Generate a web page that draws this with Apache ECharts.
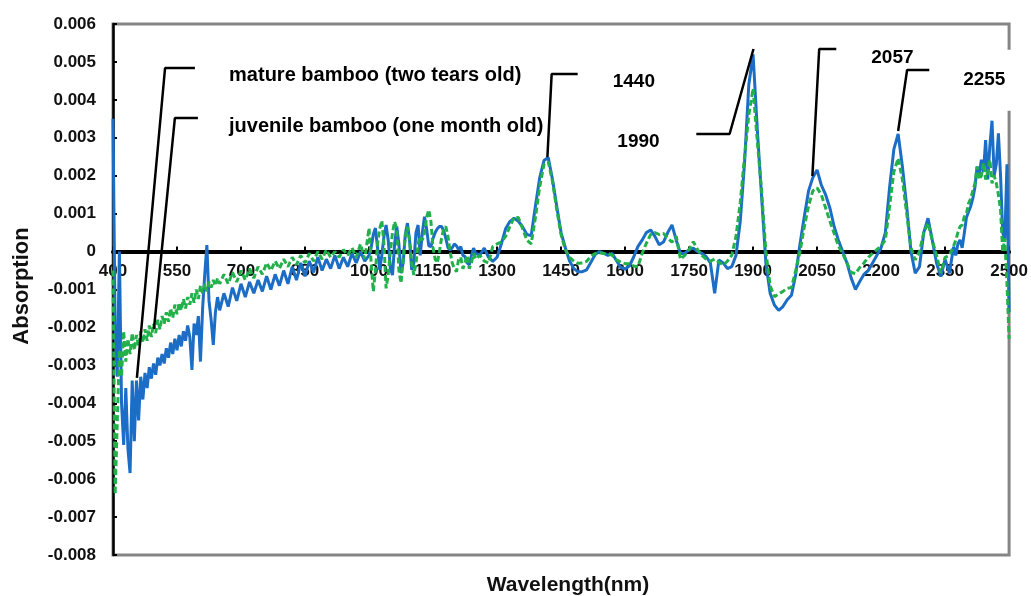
<!DOCTYPE html>
<html><head><meta charset="utf-8">
<script src="https://cdn.jsdelivr.net/npm/echarts/dist/echarts.min.js"></script>
<style>html,body{margin:0;padding:0;background:#fff}#chart{width:1031px;height:596px}</style>
</head><body><div id="chart"></div>
<script>
// ---- wavelength grids (nm) ----
const wlA = [400,405,410,415,420,425,430,435,440,445,450,455,460,465,470,475,480,485,490,495,500,505,510,515,520,525,530,535,540,545,550,555,560,565,570,575,580,585,590,595,600,605,610,615,620,625,630,635,640,645,650];
const wlB = [660,670,680,690,700,710,720,730,740,750,760,770,780,790,800,810,820,830,840,850,860,870,880,890,900,910,920,930,940,950,960,970,980,990,1000];
const wlC = [1005,1010,1015,1020,1025,1030,1035,1040,1045,1050,1055,1060,1065,1070,1075,1080,1085,1090,1095,1100,1105,1110,1115,1120,1125,1130,1135,1140,1145,1150,1155,1160,1165,1170,1175,1180,1185,1190,1195,1200,1205,1210,1215,1220,1225,1230,1235,1240,1245,1250];
const wlD = [1260,1270,1280,1290,1300,1310,1320,1330,1340,1350,1360,1370,1380,1390,1400,1410,1420,1430,1440,1450,1460,1470,1480,1490,1500,1510,1520,1530,1540,1550,1560,1570,1580,1590,1600,1610,1620,1630,1640,1650,1660,1670,1680,1690,1700,1710,1720,1730,1740,1750,1760,1770,1780,1790,1800,1810,1820,1830,1840,1850,1860,1870,1880,1890,1900,1910,1920,1930,1940,1950,1960,1970,1980,1990,2000,2010,2020,2030,2040,2050,2060,2070,2080,2090,2100,2110,2120,2130,2140,2150,2160,2170,2180,2190,2200,2210,2220,2230,2240,2250,2260,2270,2280,2290,2300,2310,2320,2330,2340,2350,2360,2370];
const wlE = [2375,2380,2385,2390,2395,2400,2405,2410,2415,2420,2425,2430,2435,2440,2445,2450,2455,2460,2465,2470,2475,2480,2485,2490,2495,2500];

// ---- mature bamboo (two years old), blue solid ----
const matureA = [0.0035,-0.002,-0.0033,0,-0.004,-0.0051,-0.0036,-0.0052,-0.00584,-0.0034,-0.005,-0.0034,-0.00445,-0.0033,-0.0039,-0.0032,-0.0036,-0.00305,-0.00335,-0.00295,-0.00325,-0.0028,-0.003,-0.0027,-0.00295,-0.00255,-0.0028,-0.0024,-0.0027,-0.0023,-0.0026,-0.0022,-0.0025,-0.0021,-0.00235,-0.00195,-0.00225,-0.00312,-0.0019,-0.0022,-0.0017,-0.0029,-0.0015,-0.0006,0.00017,-0.0013,-0.0018,-0.00246,-0.0016,-0.0012,-0.00155];
const matureB = [-0.0011,-0.00145,-0.00095,-0.0013,-0.00085,-0.0012,-0.0008,-0.0011,-0.00075,-0.00105,-0.00065,-0.001,-0.0006,-0.0009,-0.0005,-0.00085,-0.0004,-0.00075,-0.0003,-0.00065,-0.00025,-0.00055,-0.00015,-0.0005,-0.0002,-0.00045,-0.0001,-0.00045,-0.00015,-0.0004,-0.00005,-0.0003,0,-0.00025,-0.0001];
const matureC = [0.0001,0.00045,0.00062,0.0001,-0.00048,-0.0001,0.0004,0.0007,0.0003,-0.00045,-0.00062,0.0002,0.00066,0.0002,-0.00057,-0.0003,0.00045,0.00075,0.0003,-0.00048,-0.0003,0.0005,0.0007,-0.0001,0.0005,0.00092,0.0006,0.00015,0.00013,0.00035,0.0005,0.0006,0.00066,0.00066,0.00055,0.00035,0.0001,0.00004,0.0001,0.0002,0.00015,0.00005,0.00013,-0.0001,-0.00013,-0.0003,-0.00035,-0.0001,0.00009,-0.00005];
const matureD = [-0.00009,0.00009,-0.00015,-0.00026,-0.00015,0.0002,0.0006,0.00079,0.00088,0.0008,
0.00065,0.00045,0.00042,0.0012,0.00195,0.0024,0.00248,0.0019,0.00119,0.0005,
0.0001,-0.00025,-0.00045,-0.00053,-0.00053,-0.00048,-0.00028,-0.00008,0,-0.00005,
-0.0001,-0.00005,-0.00024,-0.00042,-0.00046,-0.00038,-0.00015,0.00013,0.0003,0.0005,
0.00057,0.0004,0.00018,0.00025,0.0005,0.0007,0.0003,-0.00005,-0.00005,0.00005,
0.00009,0,-0.00005,-0.00013,-0.0003,-0.0011,-0.00022,-0.0003,-0.00045,-0.0004,
-0.0001,0.0008,0.00233,0.0044,0.0052,0.0032,0.00145,-0.0003,-0.0011,-0.00141,
-0.00155,-0.00145,-0.00127,-0.00115,-0.0006,0.0002,0.00092,0.0016,0.00195,0.00215,
0.00175,0.0015,0.00115,0.00066,0.0003,0,-0.0003,-0.0007,-0.001,-0.00079,
-0.0006,-0.0005,-0.0003,-0.0001,0.0001,0.0005,0.0017,0.0027,0.0031,0.00224,
0.0012,0,-0.00057,-0.0004,0.0005,0.00088,0.0003,-0.0003,-0.00066,-0.0002,
-0.00057,0.00013];
const matureE = [-0.0001,0.0002,0.00031,0.0001,0.00048,0.0009,0.00105,0.00119,0.0014,0.0017,0.00224,0.002,0.00242,0.0021,0.00294,0.0019,0.0028,0.00345,0.002,0.0023,0.00312,0.002,0.0005,0.00031,0.0023,-0.0016];

// ---- juvenile bamboo (one month old), green dashed ----
const juvenileA = [-0.0005,-0.0064,-0.0045,-0.0026,-0.0033,-0.0021,-0.0029,-0.0023,-0.0027,-0.00215,-0.0026,-0.0022,-0.0025,-0.0021,-0.0024,-0.00205,-0.00235,-0.00195,-0.00225,-0.0019,-0.00215,-0.0018,-0.00205,-0.0017,-0.0019,-0.0016,-0.00185,-0.0015,-0.00175,-0.0014,-0.00165,-0.00135,-0.00155,-0.00125,-0.0015,-0.0012,-0.0014,-0.0011,-0.00135,-0.001,-0.00125,-0.0009,-0.0011,-0.00085,-0.00105,-0.0008,-0.00095,-0.00075,-0.0009,-0.0007,-0.00085];
const juvenileB = [-0.0006,-0.00085,-0.00055,-0.0008,-0.0005,-0.00075,-0.00045,-0.0007,-0.0004,-0.0006,-0.0003,-0.0005,-0.00025,-0.00045,-0.0002,-0.0004,-0.00015,-0.00035,-0.0001,-0.0003,-0.00005,-0.00025,0,-0.0002,0.00005,-0.00015,0,-0.00015,0.00005,-0.0001,0.0001,-0.00015,0.0002,-0.0002,0.00062];
const juvenileC = [-0.0003,-0.00105,-0.0005,0.0002,0.0006,0.00082,0.0002,-0.00097,-0.0006,0,0.0005,0.00079,0.0006,-0.0005,-0.00083,-0.0002,0.0004,0.00065,0.0003,-0.0003,-0.00062,-0.0003,0.0002,0.0004,0.0003,0.0005,0.0009,0.0011,0.0008,0.0001,-0.0002,-0.0003,0,0.00035,0.0006,0.00066,0.0004,0,-0.0003,-0.00045,-0.00053,-0.0002,-0.00015,-0.00045,-0.0003,-0.0001,-0.00045,-0.0003,-0.00005,-0.0002];
const juvenileD = [-0.0001,-0.00025,-0.0003,0.00013,0.0002,0.00025,0.0004,0.00066,0.0009,0.0009,
0.0006,0.0003,0.0002,0.0009,0.00171,0.0023,0.00237,0.00185,0.0011,0.00045,
0.00005,-0.00015,-0.00025,-0.00031,-0.0003,-0.00026,-0.00012,-0.00005,-0.00003,-0.00005,
-0.00005,-0.0001,-0.00022,-0.00028,-0.00032,-0.00032,-0.00038,-0.0004,-0.00005,0.00022,
0.00045,0.0005,0.00045,0.00048,0.00035,0.00025,0.0004,-0.0002,-0.0001,0.00005,
0.00026,0.00005,-0.0001,-0.0002,-0.00025,-0.0002,-0.00028,-0.00035,-0.00025,-0.0001,
0.0004,0.0013,0.0025,0.0036,0.0043,0.0029,0.0016,0,-0.0009,-0.00119,
-0.00112,-0.00105,-0.00097,-0.00095,-0.0005,0,0.00065,0.0012,0.0016,0.00168,
0.0015,0.00115,0.0008,0.00048,0.00015,-0.00005,-0.0003,-0.00055,-0.00058,-0.00042,
-0.0003,-0.00015,-0.00005,0.00005,0.00015,0.0003,0.0012,0.0021,0.00246,0.0019,
0.001,0.0001,-0.00022,0,0.0005,0.00075,0.0003,-0.0001,-0.00057,-0.00015,
-0.0001,0.00015];
const juvenileE = [0.0003,0.0005,0.00066,0.0007,0.00092,0.001,0.00127,0.0014,0.0016,0.0018,0.00224,0.0019,0.002,0.00233,0.0019,0.0021,0.00242,0.0018,0.002,0.0018,0.0015,0.0011,0,0.00035,-0.00084,-0.0023];

// ---- axis ticks ----
const xTickMin = 400, xTickMax = 2500, xTickStep = 150;
const yTickMin = -0.008, yTickMax = 0.006, yTickStep = 0.001;

// ---- annotation leader lines (data coordinates, null = break) ----
const leaderWl  = [592, 522, 456, null, 599, 545, 496, null, 1489, 1428, 1418, null, 1767, 1845, 1901, null, 2095, 2055, 2039, null, 2313, 2261, 2240];
const leaderAbs = [0.00484, 0.00484, -0.00333, null, 0.00352, 0.00352, -0.00204, null, 0.00468, 0.00468, 0.00249, null, 0.0031, 0.0031, 0.00534, null, 0.00534, 0.00534, 0.00199, null, 0.00479, 0.00479, 0.00318];

// ---- annotation texts ----
const annoText = ['mature bamboo (two tears old)', 'juvenile bamboo (one month old)', '1440', '1990', '2057', '2255'];
const annoWl   = [672, 672, 1571, 1582, 2177, 2383];
const annoAbs  = [0.00463, 0.00331, 0.00447, 0.00289, 0.00512, 0.00452];

const wavelength = wlA.concat(wlB, wlC, wlD, wlE);
const mature = matureA.concat(matureB, matureC, matureD, matureE);
const juvenile = juvenileA.concat(juvenileB, juvenileC, juvenileD, juvenileE);

function zip(xs, ys) { return xs.map((x, i) => (x == null || ys[i] == null) ? '-' : [x, ys[i]]); }

const FONT = "'Liberation Sans', Arial, Helvetica, sans-serif";
const GRID = {left: 113, right: 21, top: 24, bottom: 41};
const W = 1031, H = 596;
const plotH = H - GRID.top - GRID.bottom;
// x axis sits on the zero line of the y axis
const xAxisOffset = -plotH * (0 - yTickMin) / (yTickMax - yTickMin);

const chart = echarts.init(document.getElementById('chart'), null, {renderer: 'canvas'});

chart.setOption({
  animation: false,
  backgroundColor: '#fff',
  grid: Object.assign({show: true, borderColor: '#858585', borderWidth: 3, backgroundColor: 'transparent'}, GRID),
  xAxis: {
    type: 'value', min: xTickMin, max: xTickMax, interval: xTickStep,
    position: 'bottom', offset: xAxisOffset,
    axisLine: {show: true, onZero: false, lineStyle: {color: '#000', width: 4}},
    axisTick: {show: true, inside: true, length: 5, lineStyle: {color: '#000', width: 2}},
    axisLabel: {fontFamily: FONT, fontWeight: 'bold', fontSize: 17, color: '#111', margin: 11,
                formatter: v => String(v)},
    splitLine: {show: false}
  },
  yAxis: {
    type: 'value', min: yTickMin, max: yTickMax, interval: yTickStep,
    axisLine: {show: true, onZero: false, lineStyle: {color: '#000', width: 2.5}},
    axisTick: {show: true, inside: true, length: 4, lineStyle: {color: '#000', width: 2}},
    axisLabel: {fontFamily: FONT, fontWeight: 'bold', fontSize: 17, color: '#111', margin: 17,
                formatter: v => (Math.abs(v) < 1e-12 ? '0' : v.toFixed(3))},
    splitLine: {show: false}
  },
  graphic: [
    {type: 'text', x: 22, y: 286, rotation: Math.PI / 2,
     style: {text: 'Absorption', font: 'bold 22px ' + FONT, fill: '#111', align: 'center', verticalAlign: 'middle', textAlign: 'center', textVerticalAlign: 'middle'}},
    {type: 'text', x: 568, y: 585,
     style: {text: 'Wavelength(nm)', font: 'bold 21px ' + FONT, fill: '#111', align: 'center', verticalAlign: 'middle', textAlign: 'center', textVerticalAlign: 'middle'}}
  ],
  series: [
    {name: 'mature bamboo (two tears old)', type: 'line', data: zip(wavelength, mature), showSymbol: false, symbol: 'none',
     lineStyle: {color: '#1b6dc6', width: 3}, silent: true, z: 2},
    {name: 'juvenile bamboo (one month old)', type: 'line', data: zip(wavelength, juvenile), showSymbol: false, symbol: 'none',
     lineStyle: {color: '#22b04b', width: 3, type: [6, 3]}, silent: true, z: 3},
    {name: 'leaders', type: 'line', data: zip(leaderWl, leaderAbs), showSymbol: false, symbol: 'none', connectNulls: false,
     lineStyle: {color: '#000', width: 2.5}, silent: true, z: 4},
    {name: 'labels', type: 'scatter', symbolSize: 0, silent: true, z: 5,
     itemStyle: {opacity: 1},
     data: annoText.map((t, i) => {
       const item = {name: t, value: [annoWl[i], annoAbs[i]]};
       if (t === '2255') item.label = {backgroundColor: '#fff', padding: [21, 8, 21, 4]};
       if (t.length > 6) item.label = Object.assign(item.label || {}, {fontSize: 20});
       return item;
     }),
     label: {show: true, formatter: '{b}', position: 'right', distance: 0, align: 'left', verticalAlign: 'middle', opacity: 1,
             fontFamily: FONT, fontWeight: 'bold', fontSize: 19, color: '#000', textBorderWidth: 0}}
  ]
});
</script>
</body></html>
